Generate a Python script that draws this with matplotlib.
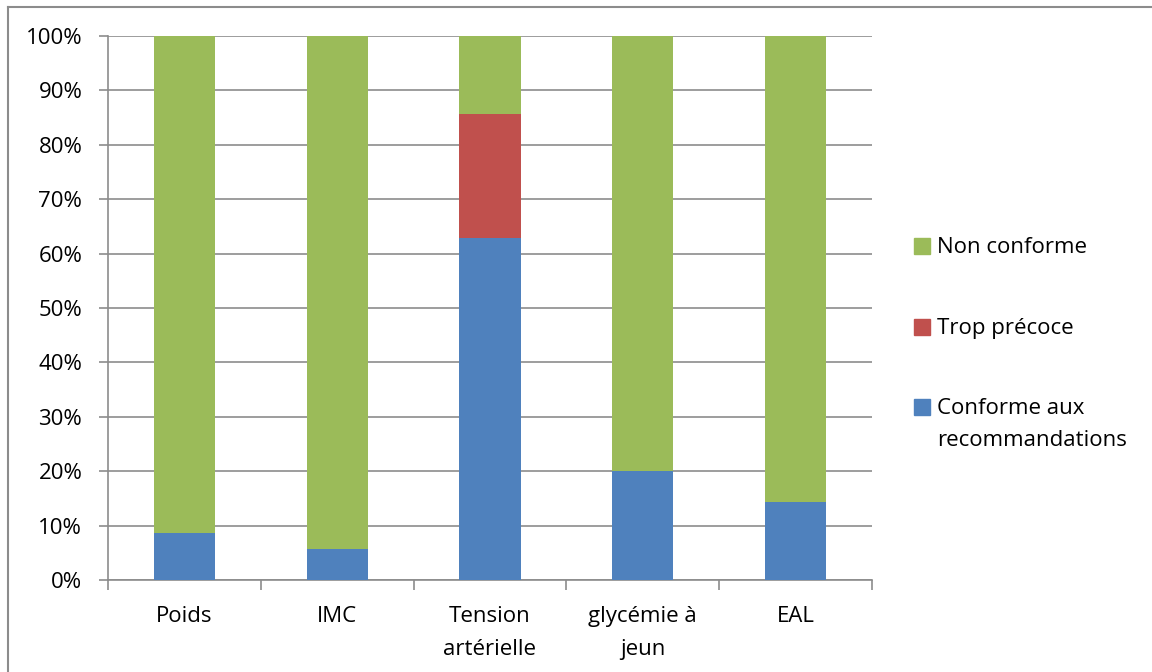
import numpy as np
import matplotlib.pyplot as plt
from matplotlib.patches import Rectangle
from matplotlib.lines import Line2D

plt.rcParams['font.family'] = ['Open Sans', 'DejaVu Sans']

categories = ['Poids', 'IMC', 'Tension\nartérielle', 'glycémie à\njeun', 'EAL']
conforme = [8.6, 5.7, 62.9, 20.0, 14.3]
precoce = [0.0, 0.0, 22.8, 0.0, 0.0]
non_conforme = [91.4, 94.3, 14.3, 80.0, 85.7]

series_names = ['Non conforme', 'Trop précoce', 'Conforme aux\nrecommandations']
colors = ['#9BBB59', '#C0504D', '#4F81BD']

W, H = 1152, 672
fig = plt.figure(figsize=(W / 100, H / 100), dpi=100)
ax = fig.add_axes([108 / W, 1 - 580 / H, 764 / W, 544 / H])

x = np.arange(len(categories))
w = 0.4
ax.bar(x, conforme, w, color=colors[2], zorder=3)
ax.bar(x, precoce, w, bottom=conforme, color=colors[1], zorder=3)
bottom3 = np.array(conforme) + np.array(precoce)
ax.bar(x, non_conforme, w, bottom=bottom3, color=colors[0], zorder=3)

ax.set_xlim(-0.5, len(categories) - 0.5)
ax.set_ylim(0, 100)
ax.set_yticks(np.arange(0, 101, 10))
ax.set_yticklabels([f'{v}%' for v in range(0, 101, 10)], fontsize=16)
ax.yaxis.grid(True, color='#8c8c8c', linewidth=1.2, zorder=0)

ax.set_xticks(x)
ax.set_xticklabels(categories, fontsize=16, linespacing=1.7)
ax.set_xticks(np.arange(-0.5, len(categories)), minor=True)
ax.tick_params(axis='x', which='major', length=0, pad=19)
ax.tick_params(axis='x', which='minor', length=7, color='#8c8c8c', width=1.2)
ax.tick_params(axis='y', length=6.5, color='#8c8c8c', width=1.2, pad=12)

for s in ['top', 'right']:
    ax.spines[s].set_visible(False)
for s in ['left', 'bottom']:
    ax.spines[s].set_color('#8c8c8c')
    ax.spines[s].set_linewidth(1.2)

# legend drawn by hand so the square sits on the first line of a two-line label
leg_y = [246, 327, 407]
for name, c, yc in zip(series_names, colors, leg_y):
    fig.patches.append(Rectangle((914 / W, 1 - (yc + 8) / H), 16 / W, 16 / H,
                                 transform=fig.transFigure, color=c))
    fig.text(937 / W, 1 - (yc - 9) / H, name, fontsize=16, va='top', ha='left',
             linespacing=1.7)

# outer chart border (top and left edges visible)
fig.add_artist(Line2D([7.5 / W, 1], [1 - 6.5 / H, 1 - 6.5 / H],
                      transform=fig.transFigure, color='#8c8c8c', linewidth=1.5))
fig.add_artist(Line2D([7.5 / W, 7.5 / W], [0, 1 - 6.5 / H],
                      transform=fig.transFigure, color='#8c8c8c', linewidth=1.5))

fig.savefig('out.png', dpi=100)
